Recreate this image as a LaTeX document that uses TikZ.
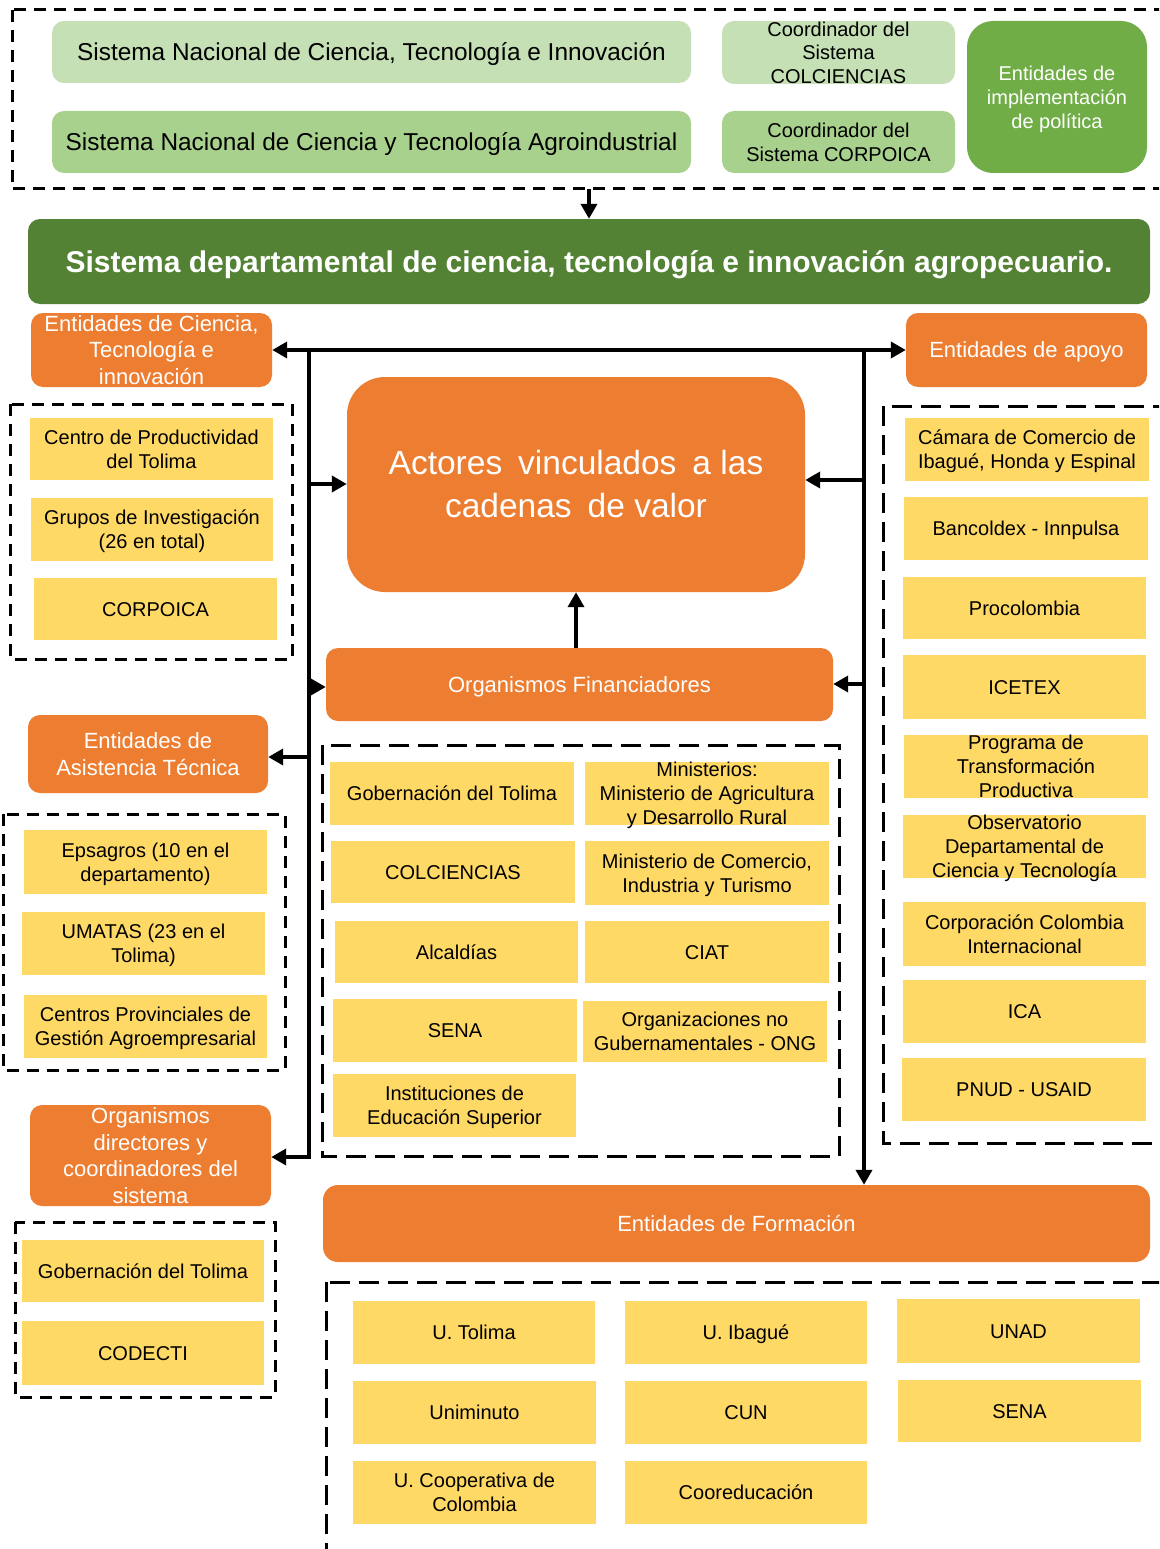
\documentclass[tikz,border=0pt]{standalone}
\usepackage{fontspec}
\setmainfont{Liberation Sans}
\usetikzlibrary{arrows.meta}
\definecolor{yel}{HTML}{FFD966}
\definecolor{ora}{HTML}{ED7D31}
\definecolor{lgA}{HTML}{C5E0B4}
\definecolor{lgB}{HTML}{A9D18E}
\definecolor{mg}{HTML}{70AD47}
\definecolor{dg}{HTML}{548235}
% text block whose lines are cap-centred in the box; declared size kept small so boxes keep their size
\newcommand\tx[1]{\raisebox{\dimexpr0.2\baselineskip-0.358em\relax}[\dimexpr\height-\depth+20pt\relax][20pt]{\begin{tabular}{@{}c@{}}#1\end{tabular}}}
\newcommand\yb[6]{\node[ybox, minimum width=#4pt, minimum height=#5pt] (#1) at (#2,#3) {\tx{#6}};}
\begin{document}
\begin{tikzpicture}[x=1pt,y=-1pt,
 ybox/.style={fill=yel, inner sep=0pt, align=center, font=\fontsize{20}{24}\selectfont},
 obox/.style={fill=ora, rounded corners=12pt, inner sep=0pt, align=center, text=white, font=\fontsize{22}{26.5}\selectfont},
 gbox/.style={inner sep=0pt, align=center, rounded corners=12pt},
 grp/.style={draw=black, line width=3pt, dash pattern=on 12pt off 8pt},
 grpw/.style={draw=black, line width=3pt, dash pattern=on 20pt off 9pt},
 link/.style={line width=4.5pt, -{Triangle[length=15pt,width=16pt]}},
 linkb/.style={line width=4.5pt, {Triangle[length=15pt,width=16pt]}-{Triangle[length=15pt,width=16pt]}},
 trunk/.style={line width=4.5pt}
]
\useasboundingbox (0,0) rectangle (1159,1549);
\clip (0,0) rectangle (1159,1549);
\fill[white] (0,0) rectangle (1159,1549);

% ---------- top group ----------
\draw[grp] (12,10) rectangle (1180,189);
\node[gbox, fill=lgA, minimum width=639pt, minimum height=62pt, font=\fontsize{24.4}{28}\selectfont] (sncti) at (371.5,52) {\tx{Sistema Nacional de Ciencia, Tecnología e Innovación}};
\node[gbox, fill=lgB, minimum width=639pt, minimum height=62pt, font=\fontsize{24.4}{28}\selectfont] (snct) at (371.5,142) {\tx{Sistema Nacional de Ciencia y Tecnología Agroindustrial}};
\node[gbox, fill=lgA, minimum width=233pt, minimum height=63pt, font=\fontsize{20}{23.5}\selectfont] (ccol) at (838.5,52.5) {\tx{Coordinador del\\Sistema\\COLCIENCIAS}};
\node[gbox, fill=lgB, minimum width=233pt, minimum height=62pt, font=\fontsize{20}{24}\selectfont] (ccorp) at (838.5,142) {\tx{Coordinador del\\Sistema CORPOICA}};
\node[gbox, fill=mg, rounded corners=26pt, text=white, minimum width=180pt, minimum height=152pt, font=\fontsize{20}{24}\selectfont] (impl) at (1057,97) {\tx{Entidades de\\implementación\\de política}};

\node[gbox, fill=dg, text=white, minimum width=1122pt, minimum height=85pt, font=\fontsize{30}{34}\selectfont\bfseries] (title) at (589,261.5) {\tx{Sistema departamental de ciencia, tecnología e innovación agropecuario.}};
\coordinate (topS) at (589,189);
\draw[link] (topS) -- (topS |- title.north);

% ---------- orange nodes ----------
\node[obox, minimum width=241pt, minimum height=74pt] (cti) at (151.5,350) {\tx{Entidades de Ciencia,\\Tecnología e\\innovación}};
\node[obox, minimum width=241pt, minimum height=74pt] (apoyo) at (1026.5,350) {\tx{Entidades de apoyo}};
\node[obox, rounded corners=38pt, minimum width=458pt, minimum height=215pt, font=\fontsize{33.5}{43}\selectfont] (act) at (576,484.5) {\tx{Actores\hspace{0.2em} vinculados\hspace{0.2em} a las\\cadenas\hspace{0.2em} de valor}};
\node[obox, minimum width=507pt, minimum height=73pt] (fin) at (579.5,684.5) {\tx{Organismos Financiadores}};
\node[obox, minimum width=240pt, minimum height=78pt] (asis) at (148,754) {\tx{Entidades de\\Asistencia Técnica}};
\node[obox, minimum width=241pt, minimum height=101pt] (dir) at (150.5,1155.5) {\tx{Organismos\\directores y\\coordinadores del\\sistema}};
\node[obox, rounded corners=15pt, minimum width=827pt, minimum height=77pt] (form) at (736.5,1223.5) {\tx{Entidades de Formación}};

% ---------- connectors ----------
\coordinate (Ltop) at (309,350);
\coordinate (Lbot) at (309,1157);
\coordinate (Rtop) at (864,350);
\coordinate (L1) at (309,484);
\coordinate (L2) at (309,687);
\coordinate (L3) at (309,757);
\coordinate (R1) at (864,480);
\coordinate (R2) at (864,684);
\draw[linkb] (cti.east) -- (apoyo.west);
\draw[trunk] ([yshift=-2.25pt]Ltop) -- ([yshift=2.25pt]Lbot);
\draw[link] ([yshift=-2.25pt]Rtop) -- (Rtop |- form.north);
\draw[link] (L1) -- (L1 -| act.west);
\draw[link] (R1) -- (R1 -| act.east);
\draw[link] (fin.north -| act.south) -- (act.south);
\draw[link] (L2) -- (L2 -| fin.west);
\draw[link] (R2) -- (R2 -| fin.east);
\draw[link] (L3) -- (L3 -| asis.east);
\draw[link] ([xshift=2.25pt]Lbot) -- (Lbot -| dir.east);

% ---------- dashed groups ----------
\draw[grp] (10,404) rectangle (292,659);
\draw[grp] (3,814) rectangle (285,1070);
\draw[grp] (15,1222) rectangle (275,1397);
\draw[grpw] (322,745) rectangle (839,1156);
\draw[grpw] (883,406) rectangle (1190,1143);
\draw[grpw] (326,1282) rectangle (1190,1590);

% ---------- yellow boxes ----------
\yb{cpt}{151.5}{449}{243}{62}{Centro de Productividad\\del Tolima}
\yb{gi}{152}{529.5}{242}{63}{Grupos de Investigación\\(26 en total)}
\yb{corp}{155.5}{609}{243}{62}{CORPOICA}

\yb{eps}{145.5}{862}{243}{64}{Epsagros (10 en el\\departamento)}
\yb{uma}{143.5}{943.5}{243}{63}{UMATAS (23 en el\\Tolima)}
\yb{cpg}{145.5}{1026.5}{243}{63}{Centros Provinciales de\\Gestión Agroempresarial}

\yb{gobb}{143}{1271}{242}{62}{Gobernación del Tolima}
\yb{codecti}{143}{1353}{242}{64}{CODECTI}

\yb{gob}{452}{793.5}{244}{63}{Gobernación del Tolima}
\yb{mini}{707}{793.5}{244}{63}{Ministerios:\\Ministerio de Agricultura\\y Desarrollo Rural}
\yb{colc}{453}{872}{244}{62}{COLCIENCIAS}
\yb{mcit}{707}{873}{244}{64}{Ministerio de Comercio,\\Industria y Turismo}
\yb{alc}{456.5}{952}{243}{62}{Alcaldías}
\yb{ciat}{707}{952}{244}{62}{CIAT}
\yb{sena}{455}{1030.5}{244}{63}{SENA}
\yb{ong}{705}{1031.5}{244}{61}{Organizaciones no\\Gubernamentales - ONG}
\yb{ies}{454.5}{1105.5}{243}{63}{Instituciones de\\Educación Superior}

\yb{cam}{1027}{449.5}{244}{63}{Cámara de Comercio de\\Ibagué, Honda y Espinal}
\yb{banc}{1026}{528.5}{244}{63}{Bancoldex - Innpulsa}
\yb{proc}{1024.5}{608}{243}{62}{Procolombia}
\yb{icetex}{1024.5}{687}{243}{64}{ICETEX}
\yb{ptp}{1026}{766.5}{244}{63}{Programa de\\Transformación\\Productiva}
\yb{obs}{1024.5}{846.5}{243}{63}{Observatorio\\Departamental de\\Ciencia y Tecnología}
\yb{cci}{1024.5}{934}{243}{64}{Corporación Colombia\\Internacional}
\yb{ica}{1024.5}{1011.5}{243}{63}{ICA}
\yb{pnud}{1024}{1089.5}{244}{63}{PNUD - USAID}

\yb{ut}{474}{1332.5}{242}{63}{U. Tolima}
\yb{ui}{746}{1332.5}{242}{63}{U. Ibagué}
\yb{unad}{1018.5}{1331}{243}{64}{UNAD}
\yb{unim}{474.5}{1412.5}{243}{63}{Uniminuto}
\yb{cun}{746}{1412.5}{242}{63}{CUN}
\yb{senab}{1019.5}{1411}{243}{62}{SENA}
\yb{ucc}{474.5}{1492.5}{243}{63}{U. Cooperativa de\\Colombia}
\yb{coor}{746}{1492.5}{242}{63}{Cooreducación}
\end{tikzpicture}
\end{document}
